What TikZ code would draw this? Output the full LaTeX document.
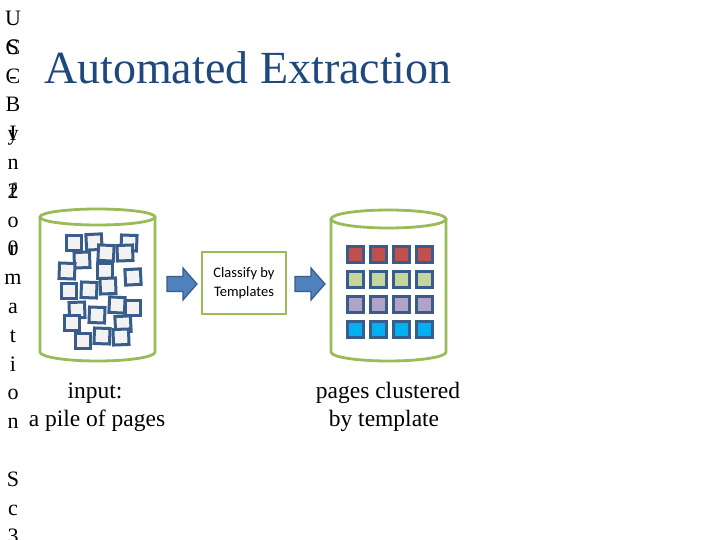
\documentclass[tikz,border=0pt]{standalone}
\usepackage{fontspec}
\setmainfont{Liberation Serif}
\newfontfamily\boxfont{Carlito}
\definecolor{titleblue}{HTML}{1F497D}
\definecolor{cylgreen}{HTML}{9BBB59}
\definecolor{pageblue}{HTML}{385D8A}
\definecolor{pagefill}{HTML}{F2F2F2}
\definecolor{arrowblue}{HTML}{4F81BD}
\definecolor{cred}{HTML}{C0504D}
\definecolor{cgreen}{HTML}{C3D69B}
\definecolor{cpurple}{HTML}{B2A2C7}
\definecolor{cblue}{HTML}{00B0F0}
\tikzset{
  colchar/.style={anchor=base,inner sep=0pt,font=\fontsize{22}{22}\selectfont},
  cylinder line/.style={draw=cylgreen,line width=2.8pt},
  paper/.style={draw=pageblue,fill=pagefill,line width=3pt,minimum size=15.5pt,inner sep=0pt},
  cell/.style={draw=pageblue,line width=3pt,minimum size=16pt,inner sep=0pt},
  blockarrow/.style={draw=pageblue,fill=arrowblue,line width=1.2pt,line join=miter},
  label/.style={anchor=base,inner sep=0pt,font=\fontsize{23.5}{23.5}\selectfont},
  classbox/.style={draw=cylgreen,line width=2.5pt,minimum width=84pt,minimum height=62pt,inner sep=0pt,align=center,font=\boxfont\fontsize{14.5}{19}\selectfont}
}
\begin{document}
\begin{tikzpicture}[x=1pt,y=-1pt]
\useasboundingbox (0,0) rectangle (720,540);
\fill[white] (0,0) rectangle (720,540);

% vertical overlapping letters at the left
\foreach \ch [count=\i] in {U,S,C,{},I,n,f,o,r,m,a,t,i,o,n,{},S,c,3}
  \node[colchar] (a\i) at (13,{25.5+(\i-1)*28.8}) {\ch};
\foreach \r/\ch in {2/C,3/-,4/B,5/y,7/2,9/0}
  \node[colchar] (b\r) at (13,{25.5+(\r-1)*28.8}) {\ch};

% title
\node[anchor=base west,inner sep=0pt,text=titleblue,font=\fontsize{46}{46}\selectfont] (title) at (44,84) {Automated Extraction};

% left cylinder
\draw[cylinder line] (40,217) -- (40,352)
  .. controls (40,357) and (65.7,361) .. (97.5,361)
  .. controls (129.3,361) and (155,357) .. (155,352) -- (155,217);
\draw[cylinder line] (97.5,217) ellipse [x radius=57.5pt, y radius=8pt];

% right cylinder
\draw[cylinder line] (331,219) -- (331,352)
  .. controls (331,357) and (356.7,361) .. (388.5,361)
  .. controls (420.3,361) and (446,357) .. (446,352) -- (446,219);
\draw[cylinder line] (388.5,219) ellipse [x radius=57.5pt, y radius=9pt];

% pile of pages
\foreach \x/\y/\r [count=\k] in {74/243/0, 94/242/3, 129/243/-2, 82/260/2, 106/253/-3, 125/253/2,
  67/271/-2, 105/271/0, 133/277/3, 69/291/0, 89/290/-2, 108/286/2, 117/305/-3, 133/308/0,
  77/310/2, 97/315/-2, 72/323/0, 123/324/3, 83/341/0, 102/336/-2, 121/337/2}
  \node[paper,rotate=\r] (p\k) at (\x,\y) {};

% clustered pages
\foreach \c [count=\i from 0] in {cred,cgreen,cpurple,cblue}
  \foreach \j in {0,1,2,3}
    \node[cell,fill=\c] (g\i\j) at ({355+23*\j},{254+25.3*\i}) {};

% classify box
\node[classbox] (classify) at (244,283) {Classify by\\Templates};

% block arrows
\draw[blockarrow] (167,276.5) -- (183,276.5) -- (183,268) -- (197,284) -- (183,300) -- (183,291.5) -- (167,291.5) -- cycle;
\draw[blockarrow] (295,276.5) -- (311,276.5) -- (311,268) -- (325,284) -- (311,300) -- (311,291.5) -- (295,291.5) -- cycle;

% labels
\node[label] (in1) at (95,398) {input:};
\node[label] (in2) at (97,426) {a pile of pages};
\node[label] (out1) at (388,398) {pages clustered};
\node[label] (out2) at (384,426) {by template};
\end{tikzpicture}
\end{document}
